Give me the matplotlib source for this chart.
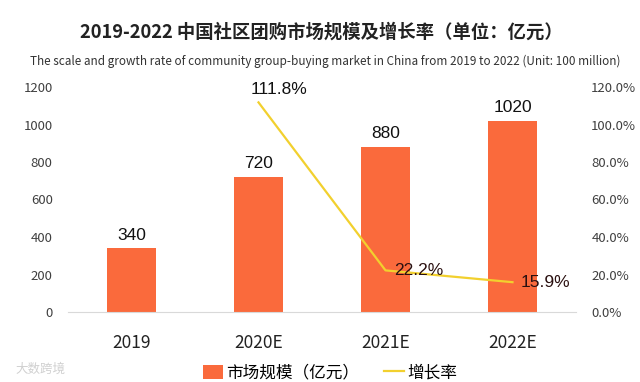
import matplotlib.pyplot as plt

plt.rcParams['font.family'] = ['Noto Sans CJK SC', 'DejaVu Sans']

# données
years = ['2019', '2020E', '2021E', '2022E']
scale = [340, 720, 880, 1020]
growth = [None, 111.8, 22.2, 15.9]
left_ticks = [0, 200, 400, 600, 800, 1000, 1200]
right_ticks = [0, 20, 40, 60, 80, 100, 120]

bar_color = '#FA6A3C'
line_color = '#F2D02E'

fig = plt.figure(figsize=(6.4, 3.82), dpi=100)
ax = fig.add_axes([68 / 640, 1 - 312 / 382, (576 - 68) / 640, (312 - 87) / 382])
ax2 = ax.twinx()

x = list(range(len(years)))
bars = ax.bar(x, scale, width=0.39, color=bar_color, zorder=2, label='市场规模（亿元）')
for xi, v in zip(x, scale):
    ax.annotate(str(v), (xi, v), xytext=(0, 4), textcoords='offset points',
                ha='center', va='bottom', fontsize=12.5, family='Liberation Sans', color='#111111')

gx = [xi for xi, g in zip(x, growth) if g is not None]
gy = [g for g in growth if g is not None]
line, = ax2.plot(gx, gy, color=line_color, lw=1.6, zorder=3, label='增长率')
# étiquettes du taux
ax2.annotate('111.8%', (gx[0], gy[0]), xytext=(-6, 4), textcoords='offset points',
             ha='left', va='bottom', fontsize=12.5, family='Liberation Sans', color='#111111')
for xi, g in zip(gx[1:], gy[1:]):
    ax2.annotate(f'{g:.1f}%', (xi, g), xytext=(6, 0), textcoords='offset points',
                 ha='left', va='center', fontsize=12.5, family='Liberation Sans', color='#2a1010')

ax.set_xlim(-0.5, 3.5)
ax.set_ylim(0, 1200)
ax2.set_ylim(0, 120)
ax.set_yticks(left_ticks)
ax.set_yticklabels([str(t) for t in left_ticks])
ax2.set_yticks(right_ticks)
ax2.set_yticklabels([f'{t:.1f}%' for t in right_ticks])
ax.set_xticks(x)
ax.set_xticklabels(years)

for a in (ax, ax2):
    for s in a.spines.values():
        s.set_visible(False)
ax.spines['bottom'].set_visible(True)
ax.spines['bottom'].set_color('#d9d9d9')
ax.tick_params(axis='y', length=0, pad=11, labelsize=9.5, labelcolor='#404040')
ax2.tick_params(axis='y', length=0, pad=11, labelsize=9.5, labelcolor='#404040')
ax.tick_params(axis='x', length=0, pad=16, labelsize=12.5, labelcolor='#222222')

fig.text(0.502, 0.915, '2019-2022 中国社区团购市场规模及增长率（单位：亿元）',
         ha='center', va='center', fontsize=13.2, fontweight='semibold', color='#222222')
fig.text(0.508, 0.84, 'The scale and growth rate of community group-buying market in China from 2019 to 2022 (Unit: 100 million)',
         ha='center', va='center', fontsize=8.45, color='#333333')

fig.legend(handles=[bars, line], loc='center', bbox_to_anchor=(330 / 640, 1 - 373 / 382),
           ncol=2, frameon=False, fontsize=12, handlelength=1.2, handleheight=0.9,
           columnspacing=1.5, handletextpad=0.2)

fig.text(40 / 640, 1 - 369 / 382, '大数跨境', ha='center', va='center', fontsize=9, color='#d0d0d0')

fig.savefig('out.png', dpi=100)
